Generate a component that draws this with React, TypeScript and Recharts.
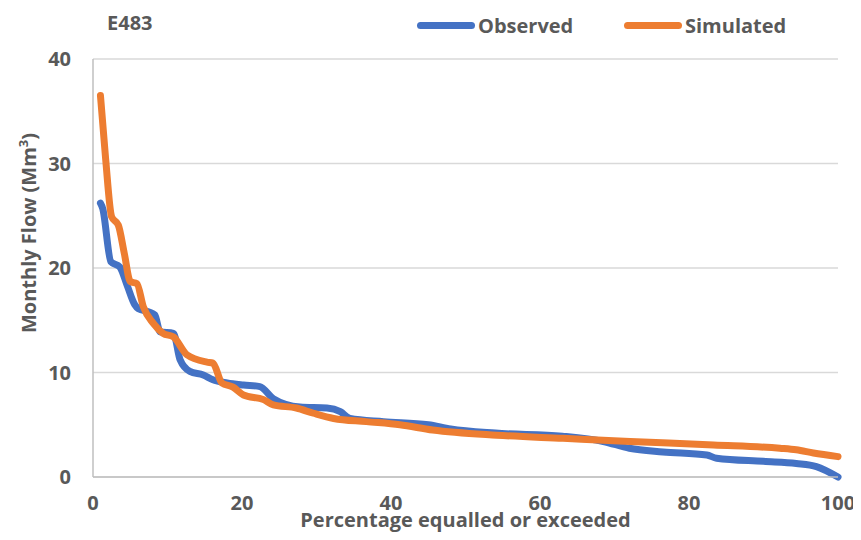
import { CartesianGrid, Line, LineChart, XAxis, YAxis } from "recharts";

const FONT = "'Open Sans', sans-serif";
const TEXT = "#595959";
const BLUE = "#4472C4";
const ORANGE = "#ED7D31";

// flow duration curve, station E483
const obsPct = [1, 1.3, 2.4, 3.6, 4.6, 5.6, 6.1, 7.5, 8.3, 9.0, 10.8, 11.7, 13, 14.8, 16.1, 18, 20.2, 22.4, 24.2, 27.8, 31.4, 33.2, 34.5, 39, 45, 48, 54, 63, 68.5, 72, 76.5, 82.4, 83.7, 90, 94.4, 97.1, 100];
const obsFlow = [26.2, 25.7, 20.6, 20.1, 18.3, 16.5, 16.1, 15.8, 15.5, 13.9, 13.75, 11.2, 10.1, 9.76, 9.3, 9.0, 8.8, 8.65, 7.5, 6.7, 6.6, 6.25, 5.6, 5.3, 5.0, 4.6, 4.2, 3.9, 3.4, 2.75, 2.4, 2.1, 1.8, 1.5, 1.3, 1.0, 0];

const simPct = [1, 1.7, 2.5, 3.4, 4.2, 5.0, 5.9, 6.75, 8.1, 9.4, 10.8, 12.6, 15.3, 16.1, 17.3, 18.8, 20.2, 22.9, 24.2, 27.3, 29.6, 32.3, 36.7, 41.2, 45.6, 54.2, 63.1, 72.1, 83.3, 92.2, 94.4, 96.7, 100];
const simFlow = [36.5, 30.4, 24.9, 24.1, 21.4, 18.7, 18.5, 16.3, 14.7, 13.75, 13.4, 11.7, 11.0, 10.9, 9.0, 8.6, 7.85, 7.4, 6.9, 6.6, 6.1, 5.6, 5.3, 5.0, 4.5, 4.0, 3.7, 3.4, 3.06, 2.75, 2.6, 2.3, 1.95];

const xTicks = [0, 20, 40, 60, 80, 100];
const yTicks = [0, 10, 20, 30, 40];

const observed = obsPct.map((p, i) => ({ p, v: obsFlow[i] }));
const simulated = simPct.map((p, i) => ({ p, v: simFlow[i] }));

const tickStyle = { fontFamily: FONT, fontWeight: 700, fontSize: 20, fill: TEXT };
const textStyle = { fontFamily: FONT, fontWeight: 700, fontSize: 20, color: TEXT };

function LegendItem({ color, label, left }: { color: string; label: string; left: number }) {
  return (
    <div style={{ position: "absolute", top: 4, left, display: "flex", alignItems: "center", ...textStyle }}>
      <div style={{ width: 58, height: 7, borderRadius: 4, background: color }} />
      <span style={{ marginLeft: 3 }}>{label}</span>
    </div>
  );
}

export default function App() {
  return (
    <div style={{ position: "relative", width: 853, height: 524 }}>
      <LineChart width={853} height={524} margin={{ top: 51, right: 23, left: 0, bottom: 25 }}>
        <CartesianGrid vertical={false} stroke="#d9d9d9" strokeWidth={1.5} />
        <XAxis
          type="number"
          dataKey="p"
          domain={[0, 100]}
          ticks={xTicks}
          height={30}
          tickSize={0}
          tickMargin={19}
          tick={tickStyle}
          stroke="#bfbfbf"
          strokeWidth={1.5}
          allowDuplicatedCategory={false}
        />
        <YAxis
          type="number"
          domain={[0, 40]}
          ticks={yTicks}
          width={85}
          tickSize={0}
          tickMargin={22}
          tick={tickStyle}
          stroke="#bfbfbf"
          strokeWidth={1.5}
        />
        <Line
          data={observed}
          dataKey="v"
          name="Observed"
          type="monotone"
          stroke={BLUE}
          strokeWidth={7}
          strokeLinecap="round"
          dot={false}
          isAnimationActive={false}
        />
        <Line
          data={simulated}
          dataKey="v"
          name="Simulated"
          type="monotone"
          stroke={ORANGE}
          strokeWidth={7}
          strokeLinecap="round"
          dot={false}
          isAnimationActive={false}
        />
      </LineChart>
      <LegendItem color={BLUE} label="Observed" left={409} />
      <LegendItem color={ORANGE} label="Simulated" left={616} />
      <div style={{ position: "absolute", left: 99, top: 1, ...textStyle }}>E483</div>
      <div
        style={{
          position: "absolute", left: 0, width: 915, top: 501, textAlign: "center",
          whiteSpace: "nowrap", lineHeight: "22px", ...textStyle,
        }}
      >
        Percentage equalled or exceeded
      </div>
      <div style={{ position: "absolute", left: 19.5, top: 225, width: 0, height: 0 }}>
        <div
          style={{
            position: "absolute", transform: "translate(-50%, -50%) rotate(-90deg)",
            whiteSpace: "nowrap", ...textStyle,
          }}
        >
          Monthly Flow (Mm<sup style={{ fontSize: 13 }}>3</sup>)
        </div>
      </div>
    </div>
  );
}
